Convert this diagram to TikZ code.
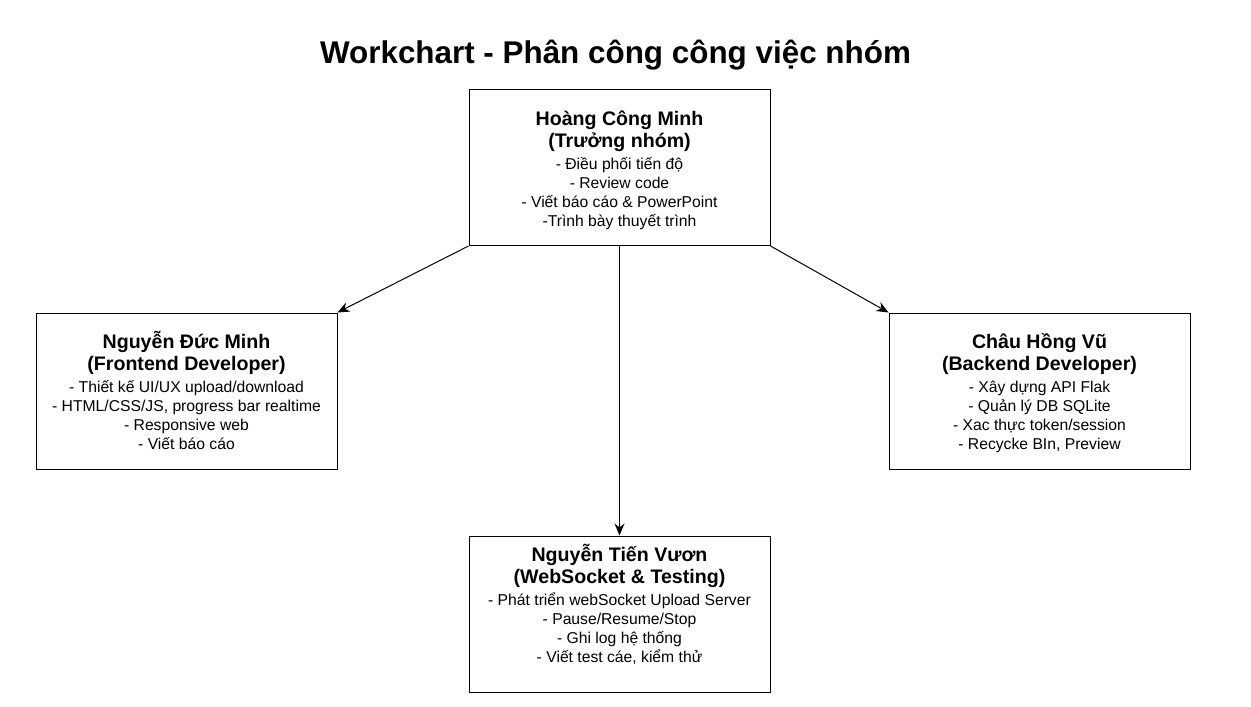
\documentclass[tikz,border=0pt]{standalone}
\usepackage{fontspec}
\setmainfont{Liberation Sans}
\usetikzlibrary{arrows.meta,positioning}
\tikzset{member/.style={rectangle,draw,line width=1pt,fill=white,minimum width=301pt,minimum height=156pt,align=center,inner sep=0pt,font=\fontsize{15.7}{19}\selectfont}}
\tikzset{link/.style={draw,line width=1pt,-{Stealth[length=12pt,width=10pt]}}}
\tikzset{heading/.style={font=\fontsize{31.4}{36}\selectfont\bfseries}}
\newcommand{\namefont}{\fontsize{19.6}{23}\selectfont\bfseries}
\newcommand{\toprule}{\rule{0pt}{22pt}}

\begin{document}
\begin{tikzpicture}[x=1pt,y=-1pt]
    \useasboundingbox (0,0) rectangle (1251,707);
    \node[heading] (title) at (615.5,55) {Workchart - Phân công công việc nhóm};

    \node[member] (lead) at (619.5,167.5) {{\namefont\toprule Hoàng Công Minh}\\[3pt]{\namefont (Trưởng nhóm)}\\[3pt]
        - Điều phối tiến độ\\ - Review code\\ - Viết báo cáo \& PowerPoint\\ -Trình bày thuyết trình\strut};
    \node[member] (front) at (186.5,391) {{\namefont\toprule Nguyễn Đức Minh}\\[3pt]{\namefont (Frontend Developer)}\\[3pt]
        - Thiết kế UI/UX upload/download\\ - HTML/CSS/JS, progress bar realtime\\ - Responsive web\\ - Viết báo cáo\strut};
    \node[member] (back) at (1039.5,391) {{\namefont\toprule Châu Hồng Vũ}\\[3pt]{\namefont (Backend Developer)}\\[3pt]
        - Xây dựng API Flak\\ - Quản lý DB SQLite\\ - Xac thực token/session\\ - Recycke BIn, Preview\strut};
    \node[member] (socket) at (619.5,614) {{\namefont\toprule Nguyễn Tiến Vươn}\\[3pt]{\namefont (WebSocket \& Testing)}\\[3pt]
        - Phát triển webSocket Upload Server\\ - Pause/Resume/Stop\\ - Ghi log hệ thống\\ - Viết test cáe, kiểm thử\\[8pt]\mbox{}};

    \path[link] (lead.south west) -- (front.north east);
    \path[link] (lead.south) -- (socket.north);
    \path[link] (lead.south east) -- (back.north west);
\end{tikzpicture}
\end{document}
